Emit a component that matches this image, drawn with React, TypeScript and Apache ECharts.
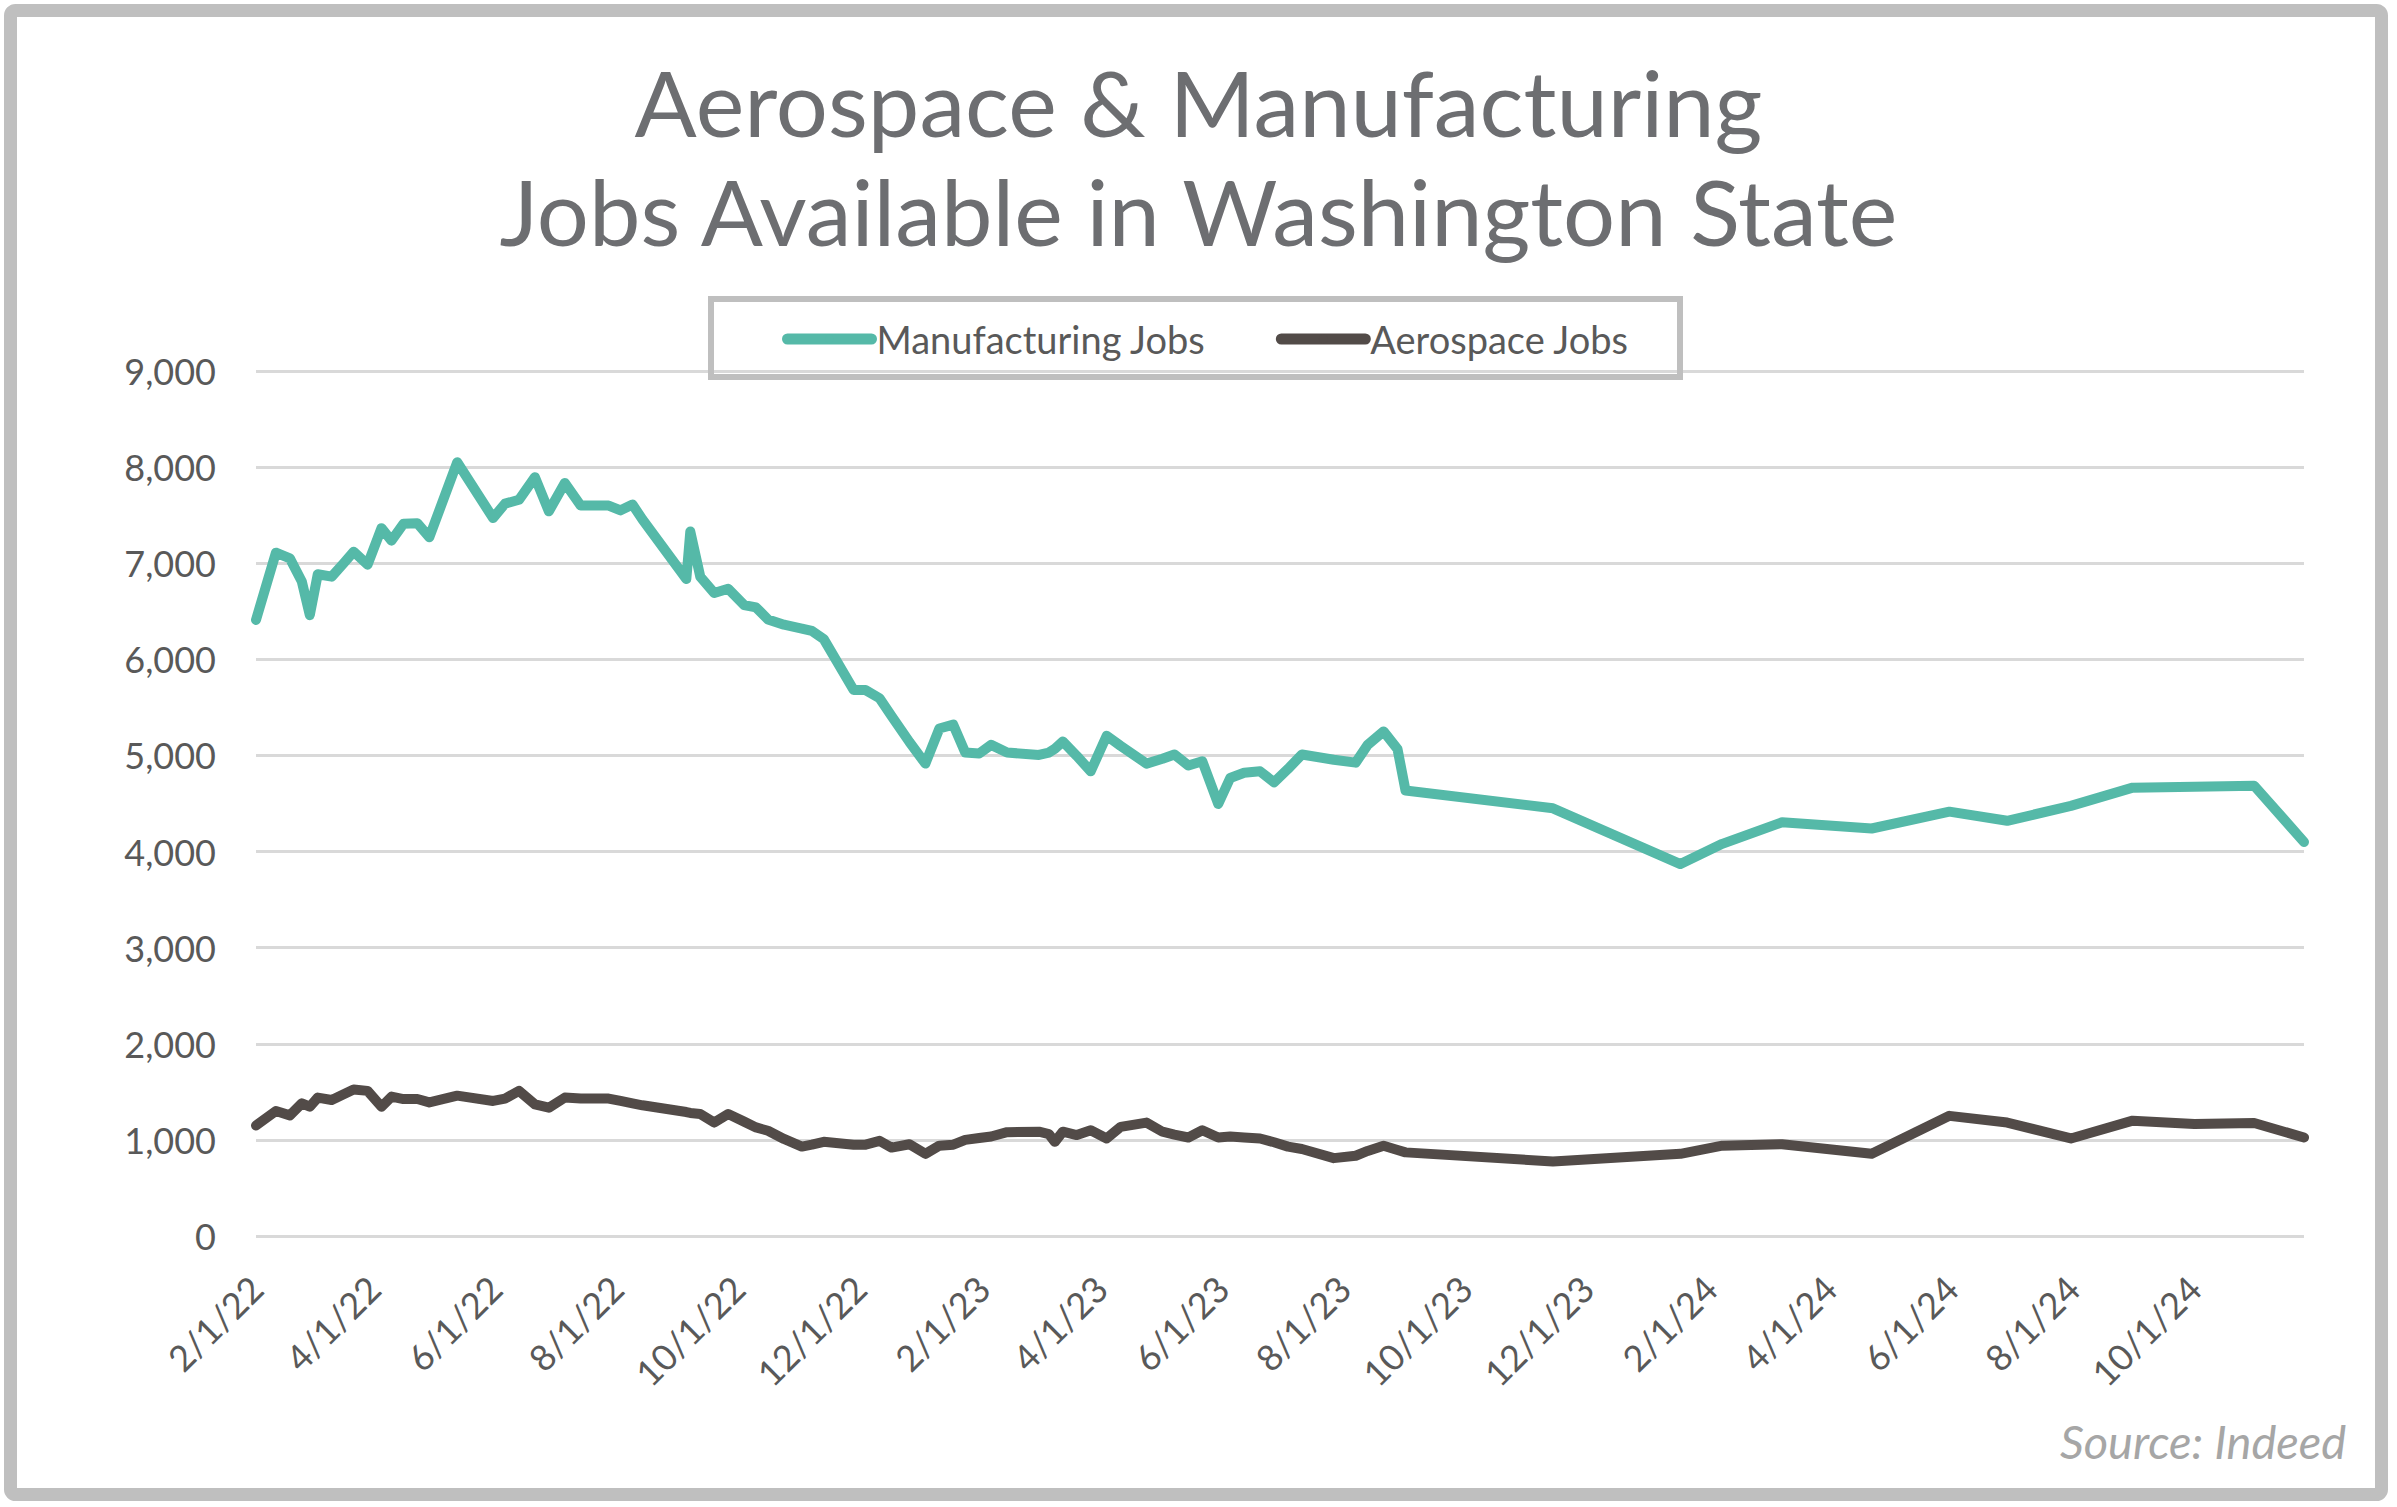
import React, { useEffect, useRef } from "react";
import * as echarts from "echarts";

// ---- data ----
const dates = [
  "2022-02-01","2022-02-11","2022-02-18","2022-02-24","2022-02-28","2022-03-04","2022-03-11","2022-03-17","2022-03-22","2022-03-29",
  "2022-04-05","2022-04-10","2022-04-16","2022-04-23","2022-04-29","2022-05-13","2022-05-31","2022-06-06","2022-06-13","2022-06-21",
  "2022-06-28","2022-07-06","2022-07-14","2022-07-28","2022-08-03","2022-08-09","2022-08-14","2022-09-05","2022-09-07","2022-09-12",
  "2022-09-19","2022-09-26","2022-10-04","2022-10-10","2022-10-16","2022-10-24","2022-11-02","2022-11-07","2022-11-13","2022-11-28",
  "2022-12-04","2022-12-11","2022-12-17","2022-12-26","2023-01-03","2023-01-10","2023-01-17","2023-01-23","2023-01-30","2023-02-05",
  "2023-02-13","2023-03-01","2023-03-06","2023-03-09","2023-03-13","2023-03-20","2023-03-27","2023-04-04","2023-04-11","2023-04-24",
  "2023-05-02","2023-05-08","2023-05-15","2023-05-22","2023-05-30","2023-06-05","2023-06-12","2023-06-20","2023-06-27","2023-07-04",
  "2023-07-11","2023-07-27","2023-08-07","2023-08-13","2023-08-21","2023-08-28","2023-09-01","2023-11-14","2024-01-17","2024-02-07",
  "2024-03-08","2024-04-22","2024-05-31","2024-06-29","2024-07-31","2024-08-31","2024-10-01","2024-10-31","2024-11-25",
];

const manufacturingJobs = [
  6410, 7110, 7050, 6810, 6460, 6885, 6860, 7000, 7120, 6985,
  7365, 7235, 7410, 7415, 7270, 8050, 7470, 7620, 7660, 7895,
  7540, 7835, 7600, 7600, 7550, 7610, 7455, 6835, 7330, 6860,
  6690, 6735, 6565, 6540, 6415, 6360, 6320, 6295, 6210, 5680,
  5680, 5595, 5410, 5140, 4915, 5280, 5320, 5030, 5020, 5110,
  5030, 5005, 5030, 5070, 5145, 4995, 4835, 5205, 5100, 4915,
  4965, 5010, 4895, 4940, 4495, 4765, 4820, 4835, 4720, 4860,
  5010, 4955, 4925, 5110, 5250, 5065, 4635, 4450, 3870, 4080,
  4305, 4240, 4415, 4320, 4475, 4665, 4675, 4685, 4100,
];

const aerospaceJobs = [
  1150, 1300, 1255, 1380, 1345, 1440, 1415, 1475, 1525, 1510,
  1345, 1450, 1425, 1425, 1390, 1460, 1405, 1430, 1510, 1370,
  1335, 1440, 1430, 1430, 1405, 1380, 1360, 1290, 1280, 1270,
  1180, 1270, 1190, 1130, 1095, 1010, 930, 950, 980, 950,
  950, 990, 920, 955, 855, 940, 950, 1000, 1020, 1035,
  1080, 1085, 1060, 980, 1085, 1050, 1100, 1015, 1135, 1180,
  1085, 1055, 1025, 1100, 1025, 1035, 1025, 1015, 975, 930,
  905, 810, 835, 885, 940, 895, 870, 775, 855, 940,
  955, 855, 1250, 1180, 1015, 1200, 1165, 1175, 1025,
];

const xTickDates = [
  "2022-02-01","2022-04-01","2022-06-01","2022-08-01","2022-10-01","2022-12-01",
  "2023-02-01","2023-04-01","2023-06-01","2023-08-01","2023-10-01","2023-12-01",
  "2024-02-01","2024-04-01","2024-06-01","2024-08-01","2024-10-01",
];

const yMin = 0;
const yMax = 9000;
const yStep = 1000;

const seriesNames = ["Manufacturing Jobs", "Aerospace Jobs"];
const titleLines = ["Aerospace & Manufacturing", "Jobs Available in Washington State"];
const sourceNote = "Source: Indeed";

// ---- helpers: x positions are days since the first date ----
const DAY = 86400000;
const toTs = (s: string) => {
  const [y, m, d] = s.split("-").map(Number);
  return Date.UTC(y, m - 1, d);
};
const origin = toTs(dates[0]);
const toDay = (s: string) => Math.round((toTs(s) - origin) / DAY);
const fmtDay = (v: number) => {
  const d = new Date(origin + Math.round(v) * DAY);
  return `${d.getUTCMonth() + 1}/${d.getUTCDate()}/${String(d.getUTCFullYear()).slice(2)}`;
};

const TEAL = "#55b9a8";
const DARK = "#524b48";
const AXIS_TEXT = "#595959";
const FONT = "Lato";

export default function App() {
  const ref = useRef<HTMLDivElement>(null);

  useEffect(() => {
    if (!ref.current) return;
    const chart = echarts.init(ref.current, undefined, { renderer: "svg" });

    const option: any = {
      animation: false,
      backgroundColor: "#ffffff",
      title: {
        text: titleLines.join("\n"),
        left: "center",
        top: 42,
        textStyle: {
          fontFamily: FONT,
          fontSize: 92,
          lineHeight: 109,
          fontWeight: "normal",
          color: "#6d6e71",
        },
      },
      legend: {
        data: seriesNames,
        left: 782,
        top: 320,
        padding: 0,
        itemWidth: 84,
        itemHeight: 11,
        itemGap: 70,
        lineStyle: { width: 11, cap: "round" },
        textStyle: { fontFamily: FONT, fontSize: 38, color: AXIS_TEXT },
      },
      grid: {
        left: 256,
        right: 93,
        top: 371,
        bottom: 271,
        containLabel: false,
        outerBoundsMode: "none",
      },
      xAxis: {
        type: "value",
        min: 0,
        max: toDay(dates[dates.length - 1]),
        axisLine: { show: false },
        axisTick: { show: false },
        splitLine: { show: false },
        axisLabel: {
          customValues: xTickDates.map(toDay),
          formatter: (v: number) => fmtDay(v),
          rotate: 45,
          margin: 46,
          fontFamily: FONT,
          fontSize: 36,
          color: AXIS_TEXT,
        },
      },
      yAxis: {
        type: "value",
        min: yMin,
        max: yMax,
        interval: yStep,
        axisLine: { show: false },
        axisTick: { show: false },
        splitLine: { lineStyle: { color: "#d9d9d9", width: 3 } },
        axisLabel: {
          formatter: (v: number) => v.toLocaleString("en-US"),
          margin: 40,
          fontFamily: FONT,
          fontSize: 36,
          color: AXIS_TEXT,
        },
      },
      series: [
        {
          name: seriesNames[0],
          type: "line",
          data: dates.map((d, i) => [toDay(d), manufacturingJobs[i]]),
          showSymbol: false,
          symbol: "none",
          lineStyle: { width: 10, color: TEAL, join: "round", cap: "round" },
          itemStyle: { color: TEAL },
          z: 3,
        },
        {
          name: seriesNames[1],
          type: "line",
          data: dates.map((d, i) => [toDay(d), aerospaceJobs[i]]),
          showSymbol: false,
          symbol: "none",
          lineStyle: { width: 10, color: DARK, join: "round", cap: "round" },
          itemStyle: { color: DARK },
          z: 3,
        },
      ],
      graphic: [
        {
          type: "rect",
          shape: { x: 10.5, y: 10.5, width: 2371, height: 1484, r: 5 },
          style: { fill: "none", stroke: "#bfbfbf", lineWidth: 13 },
          silent: true,
          z: 10,
        },
        {
          type: "rect",
          shape: { x: 711, y: 299, width: 969, height: 78 },
          style: { fill: "none", stroke: "#bfbfbf", lineWidth: 6 },
          silent: true,
          z: 10,
        },
        {
          type: "text",
          right: 51,
          top: 1417,
          style: {
            text: sourceNote,
            fontFamily: FONT,
            fontStyle: "italic",
            fontSize: 47,
            fill: "#a6a6a6",
          },
          silent: true,
          z: 10,
        },
      ],
    };

    chart.setOption(option);
    return () => chart.dispose();
  }, []);

  return (
    <div
      ref={ref}
      style={{ position: "absolute", left: 0, top: 0, width: 2397, height: 1507 }}
    />
  );
}
